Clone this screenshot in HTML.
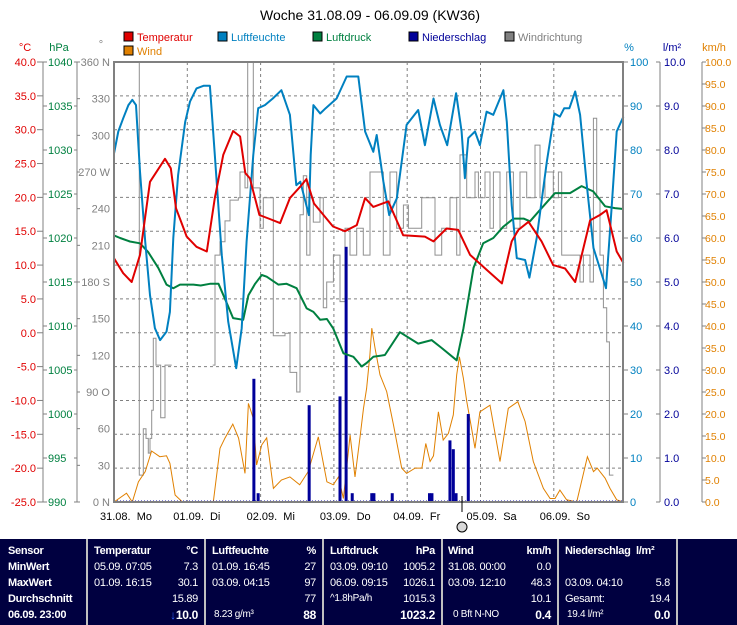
<!DOCTYPE html>
<html><head><meta charset="utf-8">
<style>
html,body{margin:0;padding:0;background:#fff;}
body{width:737px;height:625px;overflow:hidden;position:relative;font-family:"Liberation Sans",sans-serif;}
svg{position:absolute;left:0;top:0;}
#tbl{position:absolute;left:0;top:539px;width:737px;height:86px;background:#000040;color:#fff;font-family:"Liberation Sans Narrow","Liberation Sans",sans-serif;font-size:11px;letter-spacing:-0.3px;}
.col{position:absolute;top:0;height:86px;border-right:2px solid #c0c0c0;box-sizing:border-box;}
.r{position:absolute;height:16px;line-height:16px;white-space:nowrap;}
.b{font-weight:bold;}
</style></head><body>
<svg id="chart" width="737" height="539"></svg>
<div id="tbl">
 <div class="col" style="left:0;width:88px">
  <div class="r b" style="left:8px;top:4px">Sensor</div>
  <div class="r b" style="left:8px;top:20px">MinWert</div>
  <div class="r b" style="left:8px;top:36px">MaxWert</div>
  <div class="r b" style="left:8px;top:52px">Durchschnitt</div>
  <div class="r b" style="left:8px;top:68px">06.09. 23:00</div>
 </div>
 <div class="col" style="left:88px;width:118px">
  <div class="r b" style="left:6px;top:4px">Temperatur</div><div class="r b" style="right:6px;top:4px">°C</div>
  <div class="r" style="left:6px;top:20px">05.09. 07:05</div><div class="r" style="right:6px;top:20px">7.3</div>
  <div class="r" style="left:6px;top:36px">01.09. 16:15</div><div class="r" style="right:6px;top:36px">30.1</div>
  <div class="r" style="right:6px;top:52px">15.89</div>
  <div class="r b" style="right:6px;top:68px;font-size:12px"><span style="color:#3060ff">↓</span>10.0</div>
 </div>
 <div class="col" style="left:206px;width:118px">
  <div class="r b" style="left:6px;top:4px">Luftfeuchte</div><div class="r b" style="right:6px;top:4px">%</div>
  <div class="r" style="left:6px;top:20px">01.09. 16:45</div><div class="r" style="right:6px;top:20px">27</div>
  <div class="r" style="left:6px;top:36px">03.09. 04:15</div><div class="r" style="right:6px;top:36px">97</div>
  <div class="r" style="right:6px;top:52px">77</div>
  <div class="r" style="left:8px;top:68px;font-size:10px">8.23 g/m³</div><div class="r b" style="right:6px;top:68px;font-size:12px">88</div>
 </div>
 <div class="col" style="left:324px;width:119px">
  <div class="r b" style="left:6px;top:4px">Luftdruck</div><div class="r b" style="right:6px;top:4px">hPa</div>
  <div class="r" style="left:6px;top:20px">03.09. 09:10</div><div class="r" style="right:6px;top:20px">1005.2</div>
  <div class="r" style="left:6px;top:36px">06.09. 09:15</div><div class="r" style="right:6px;top:36px">1026.1</div>
  <div class="r" style="left:6px;top:52px;font-size:10px">^1.8hPa/h</div><div class="r" style="right:6px;top:52px">1015.3</div>
  <div class="r b" style="right:6px;top:68px;font-size:12px">1023.2</div>
 </div>
 <div class="col" style="left:443px;width:116px">
  <div class="r b" style="left:5px;top:4px">Wind</div><div class="r b" style="right:6px;top:4px">km/h</div>
  <div class="r" style="left:5px;top:20px">31.08. 00:00</div><div class="r" style="right:6px;top:20px">0.0</div>
  <div class="r" style="left:5px;top:36px">03.09. 12:10</div><div class="r" style="right:6px;top:36px">48.3</div>
  <div class="r" style="right:6px;top:52px">10.1</div>
  <div class="r" style="left:10px;top:68px;font-size:10px">0 Bft N-NO</div><div class="r b" style="right:6px;top:68px;font-size:12px">0.4</div>
 </div>
 <div class="col" style="left:559px;width:119px">
  <div class="r b" style="left:6px;top:4px">Niederschlag&nbsp; l/m²</div>
  <div class="r" style="left:6px;top:36px">03.09. 04:10</div><div class="r" style="right:6px;top:36px">5.8</div>
  <div class="r" style="left:6px;top:52px">Gesamt:</div><div class="r" style="right:6px;top:52px">19.4</div>
  <div class="r" style="left:8px;top:68px;font-size:10px">19.4 l/m²</div><div class="r b" style="right:6px;top:68px;font-size:12px">0.0</div>
 </div>
</div>
<script>
// ---- data (hours since 31.08. 00:00) ----
const dayLabels = ["31.08.  Mo","01.09.  Di","02.09.  Mi","03.09.  Do","04.09.  Fr","05.09.  Sa","06.09.  So"];
const tempHours = [0,3,5.8,8.5,11.8,16.7,18.6,20.3,23.8,27,30.4,33,35.8,39,41.3,43,44.5,47.6,51,54.4,57.6,61,63,65.5,71.7,75.6,79.5,82.2,84.9,89.8,94.7,101.8,104.6,108.9,112.7,116.6,122,127,130.2,132.4,135.7,140,143.8,147.7,151,155.9,159.1,161.3,164.6,166.8];
const tempValues = [11.0,8.8,7.5,11.5,22.3,25.7,24.3,18.4,14.2,12.7,12.0,19.9,26.3,29.8,29.0,23.6,22.8,17.4,16.8,16.2,19.9,21.6,22.7,19.1,15.7,15.0,15.9,19.9,18.6,19.4,14.4,14.2,13.5,15.4,15.2,11.5,9.3,7.3,13.5,15.2,16.4,13.5,10.0,9.5,7.5,16.6,17.4,18.1,12.0,10.3];
const humHours = [0,1.4,3,4.7,6,7.2,8.5,10.2,11.8,13.4,15.1,17.2,18.3,19.4,21,23.3,24.9,27,29.3,31.4,33,35.3,37.4,40,41.8,43.4,45.6,47.2,49.4,52,54.8,57.6,59.7,61,63.8,64.4,65.3,67.5,69.3,72.9,76.2,80,82.2,84.9,86,88.2,90.1,92.6,95.8,99.6,101.8,104.6,106.7,109.1,112,113.8,114.9,116,118.2,119.8,122,124.2,127.5,128.6,130.2,131.9,134.6,136,138.4,141.7,144.2,146,147.4,149.1,151,152.6,154.8,157,159.1,161.1,163,164.6,166.8];
const humValues = [79.2,84.2,87.2,90.2,91.4,90.2,75.1,59.2,47,39.5,36.8,38.7,43.2,60,74.3,86.4,91,94,94.6,94.6,78.9,56.1,41,30.4,39.5,59.2,78.9,89.5,90.2,91.7,93.6,88,72,72.8,65.2,78.9,90.2,88.3,89.5,91.7,96.7,96.7,84.2,79.6,83.4,72.8,65.2,69,85.7,89.1,81.1,91.7,85.7,81.1,92.9,84.2,73.6,82.7,84.2,81.1,88.7,88,93.6,86.4,67.5,55.4,55,51,60,77.3,88.3,87.6,89.5,89.5,93.3,88,72,57.7,53.1,48.6,67.5,84.2,87.6];
const presHours = [0,2,5.2,8.5,11.2,14.5,17.2,19.4,21.6,26,28.4,31.4,34.2,36.3,39,42.3,44,46.2,48.4,50,53.8,56.5,59.8,63.1,65.3,67.5,69.7,71.8,75.1,78.4,81.1,82.7,84.9,88.7,93.6,99.6,104,107.3,112.2,114.4,117.7,120.9,124.2,127.5,130.8,134.1,136.2,139.5,144.4,149.3,153.1,156.9,160.8,164,166.8];
const presValues = [1020.3,1020.0,1019.6,1019.4,1018.4,1016.6,1014.7,1014.3,1014.7,1014.7,1014.6,1014.8,1014.8,1013.1,1010.9,1010.7,1013.5,1014.8,1015.8,1015.6,1014.7,1014.8,1014.3,1012.0,1011.6,1010.7,1010.8,1009.7,1006.9,1006.5,1005.4,1005.8,1006.5,1006.7,1009.3,1008.0,1008.4,1007.5,1006.1,1009.7,1016.6,1019.4,1020.0,1021.3,1022.2,1022.2,1021.9,1023.2,1025.1,1025.1,1025.9,1025.3,1023.6,1023.4,1023.3];
const windHours = [0,4.1,6,8,10.2,12.3,15,17.2,18.3,20,22.4,32.5,34.7,36.3,38.9,40.8,42.9,44,45.6,46.7,48.4,50,52.2,54.8,57.6,60.8,63.6,66.9,69.7,71.8,73.5,75.1,77.3,78.9,80.5,81.7,82.7,83.8,84.4,85.5,87.1,89.3,91.5,94.2,95.8,98.6,100.8,102.1,103.5,104.6,106.2,107.8,109.5,111.1,112.2,113.1,114.4,115.5,117.1,118.2,119.8,123.1,126.4,129.1,132.2,134.6,137.3,140.6,142.8,144.4,146,148.2,151.5,155,157,158.2,160.8,162.4,164.6,166.8];
const windValues = [0,2,0,4.6,6.9,11.6,10.3,10.5,8.8,1.6,0,0,12.2,14.5,17.7,14.5,6.5,22.4,19,8.4,13,14.6,3.1,5,5.7,3.9,6.9,14.8,4.6,3.9,5.7,0.8,15.2,5.7,14.5,21.3,25.8,33.4,39.5,34.9,28.9,25.1,17.5,7.7,6.5,7.7,7.7,13.3,9.2,10.5,20.5,14.1,15.6,19.8,28.9,33,28.1,22.8,16.7,12.2,20.5,22,9.2,21.3,22.8,18.3,9.2,3.1,0.8,0.8,2.7,0.5,0,10.3,6.9,7.7,5.4,3.1,0.5,0];
const dirHours = [7.97,8.29,9.06,9.6,10.48,11.24,11.79,12.33,12.88,13.75,14.52,15.28,16.15,16.7,18.88,19.43,32.31,33.07,34.71,36.35,37.98,40.71,41.26,42.89,43.77,45.08,45.62,47.81,48.9,51.08,52.17,54.36,55.99,57.63,59.81,60.9,61.99,63.09,64.18,65.27,67.45,68.54,69.64,71.82,74,75.64,77.28,79.46,81.64,83.82,86.0,88.19,90.37,92.56,94.74,96.38,100.74,102.92,105.11,107.29,110.02,112.2,113.29,115.48,118.2,119.3,121.48,123.12,124.21,126.39,128.58,130.76,132.94,135.13,137.85,139.49,141.13,143.85,145.49,146.58,151.5,152.59,153.68,155.86,156.95,158.04,159.14,160.23,161.32,162.19,163.5];
const dirValues = [360,22,22,60,52,40,52,75,134,112,112,69,69,112,112,null,112,202,213,230,247,249,270,257,360,360,257,224,249,249,136,136,138,106,90,235,267,202,249,229,249,159,180,202,164,224,202,224,202,270,270,202,270,224,243,224,249,249,202,224,249,202,284,249,270,249,270,224,270,224,270,224,270,249,292,249,270,249,270,202,202,180,202,180,314,249,202,159,131,22,22];
const rainHours = [45.8,47.2,63.9,74,76,78,84.4,85.1,91.1,103.3,104.1,110,111.1,112,116];
const rainValues = [2.8,0.2,2.2,2.4,5.8,0.2,0.2,0.2,0.2,0.2,0.2,1.4,1.2,0.2,2.0];
const tempTicks = [40,35,30,25,20,15,10,5,0,-5,-10,-15,-20,-25];
const presTicks = [1040,1035,1030,1025,1020,1015,1010,1005,1000,995,990];
const dirTicks = ["360 N","330","300","270 W","240","210","180 S","150","120","90 O","60","30","0 N"];

// ---- axes ----
const L=114,R=623,T=62,B=502,HPD=73.3/24;
const xH=h=>L+h*HPD;
const yT=v=>T+(40-v)*(B-T)/65;
const yP=v=>T+(1040-v)*(B-T)/50;
const yPct=v=>B-v*(B-T)/100;
const yRain=v=>B-v*(B-T)/10;
const yKmh=v=>B-v*(B-T)/100;
const yDeg=v=>B-v*(B-T)/360;

const svg=document.getElementById('chart');
const NS='http://www.w3.org/2000/svg';
function mk(tag,at,parent){const e=document.createElementNS(NS,tag);for(const k in at)e.setAttribute(k,at[k]);(parent||svg).appendChild(e);return e;}
function txt(s,x,y,fill,anchor,size,name){const e=mk('text',{x:x,y:y,fill:fill,'text-anchor':anchor||'start','font-size':size||11,'font-family':'Liberation Sans, sans-serif'});e.textContent=s;


return e;}

// title
txt("Woche 31.08.09 - 06.09.09 (KW36)",370,20,'#000','middle',14,'chart-title');

// legend
const legItems=[["Temperatur","#e00000",124,41],["Luftfeuchte","#0080c0",218,41],["Luftdruck","#008040",313,41],["Niederschlag","#000099",409,41],["Windrichtung","#808080",505,41],["Wind","#e08000",124,55]];
legItems.forEach(it=>{
  const g=mk('g',{});
  
  
  mk('rect',{x:it[2],y:it[3]-9,width:9,height:9,fill:it[1],stroke:'#000','stroke-width':1},g);
  const t=mk('text',{x:it[2]+13,y:it[3],fill:it[1],'font-size':11,'font-family':'Liberation Sans, sans-serif'},g);t.textContent=it[0];
});

// unit labels
txt("°C",25,51,'#e00000','middle',11,'celsius-unit');
txt("hPa",59,51,'#008040','middle',11,'hpa-unit');
txt("°",101,48,'#808080','middle',11,'degree-unit');
txt("%",629,51,'#0080c0','middle',11,'percent-unit');
txt("l/m²",672,51,'#000099','middle',11,'rain-unit');
txt("km/h",714,51,'#e08000','middle',11,'kmh-unit');

// grid
for(let i=1;i<13;i++){const y=T+i*(B-T)/13;const l=mk('line',{x1:L,x2:R,y1:y,y2:y,stroke:'#808080','stroke-dasharray':'3,3','stroke-width':1});

}
for(let d=1;d<7;d++){const x=xH(d*24);const l=mk('line',{x1:x,x2:x,y1:T,y2:B,stroke:'#808080','stroke-dasharray':'3,3','stroke-width':1});

}

// axis lines
[[43],[77],[660],[702]].forEach(a=>{const l=mk('line',{x1:a[0],x2:a[0],y1:T,y2:B,stroke:'#808080','stroke-width':1});

});

// left tick labels
tempTicks.forEach(v=>{const y=yT(v);mk('line',{x1:37,x2:43,y1:y,y2:y,stroke:'#808080'});txt(v.toFixed(1),36,y+4,'#e00000','end',11,'temp-tick');});
presTicks.forEach(v=>{const y=yP(v);mk('line',{x1:43,x2:47,y1:y,y2:y,stroke:'#808080'});mk('line',{x1:74,x2:77,y1:y,y2:y,stroke:'#808080'});txt(String(v),48,y+4,'#008040','start',11,'pressure-tick');});
dirTicks.forEach((s,i)=>{const y=yDeg(360-i*30);mk('line',{x1:77,x2:80,y1:y,y2:y,stroke:'#808080'});txt(s,110,y+4,'#808080','end',11,'direction-tick');});
// right tick labels
for(let v=0;v<=100;v+=10){const y=yPct(v);mk('line',{x1:623,x2:628,y1:y,y2:y,stroke:'#808080'});txt(String(v),630,y+4,'#0080c0','start',11,'humidity-tick');}
for(let v=0;v<=10;v+=1){const y=yRain(v);mk('line',{x1:656,x2:660,y1:y,y2:y,stroke:'#808080'});txt(v.toFixed(1),664,y+4,'#000099','start',11,'rain-tick');}
for(let v=0;v<=100;v+=5){const y=yKmh(v);mk('line',{x1:702,x2:706,y1:y,y2:y,stroke:'#808080'});txt(v.toFixed(1),705,y+4,'#e08000','start',10.5,'wind-tick');}

// x labels
dayLabels.forEach((s,i)=>{const t=txt(s,xH(i*24)-14,520,'#000','start',11,'x-tick-label');t.setAttribute('xml:space','preserve');t.style.whiteSpace='pre';});

// series helpers
function linePath(hs,vs,yf){let d='',pen=false;for(let i=0;i<hs.length;i++){if(vs[i]===null){pen=false;continue;}d+=(pen?'L':'M')+xH(hs[i]).toFixed(1)+','+yf(vs[i]).toFixed(1);pen=true;}return d;}
function stepPath(hs,vs,yf){let d='',pen=false;for(let i=0;i<hs.length;i++){if(vs[i]===null){pen=false;continue;}const x=xH(hs[i]).toFixed(1),y=yf(vs[i]).toFixed(1);if(!pen){d+='M'+x+','+y;}else{d+='H'+x+'V'+y;}pen=true;}return d;}

// wind direction
const pDir=mk('path',{d:stepPath(dirHours,dirValues,yDeg),fill:'none',stroke:'#909090','stroke-width':1});


// wind speed
const pWind=mk('path',{d:linePath(windHours,windValues,yKmh),fill:'none',stroke:'#e08000','stroke-width':1});


// rain
mk('line',{x1:L,x2:R,y1:B-1,y2:B-1,stroke:'#0000aa','stroke-dasharray':'1,2','stroke-width':1});
rainHours.forEach((h,i)=>{const y=yRain(rainValues[i]);const r=mk('rect',{x:xH(h)-1.5,y:y,width:3,height:B-y,fill:'#000099'});

});
// pressure
const pP=mk('path',{d:linePath(presHours,presValues,yP),fill:'none',stroke:'#008040','stroke-width':2,'stroke-linejoin':'round'});


// humidity
const pH=mk('path',{d:linePath(humHours,humValues,yPct),fill:'none',stroke:'#0080c0','stroke-width':2,'stroke-linejoin':'round'});


// temperature
const pT=mk('path',{d:linePath(tempHours,tempValues,yT),fill:'none',stroke:'#e00000','stroke-width':2,'stroke-linejoin':'round'});



// frame
const fr=mk('rect',{x:L,y:T,width:R-L,height:B-T,fill:'none',stroke:'#808080','stroke-width':2});



// current marker
mk('line',{x1:462,x2:462,y1:496,y2:512,stroke:'#000','stroke-width':1});
const cm=mk('circle',{cx:462,cy:527,r:5,fill:'#d8d8d8',stroke:'#000','stroke-width':1});


</script>
</body></html>
